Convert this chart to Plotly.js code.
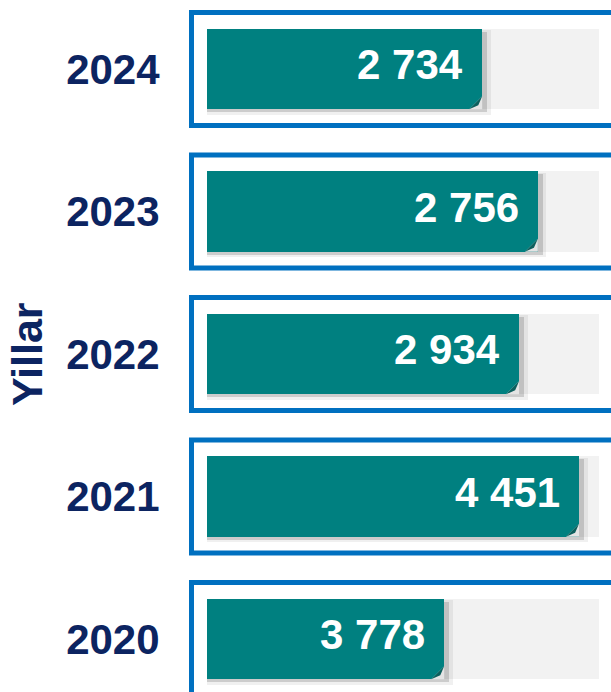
<!DOCTYPE html>
<html>
<head>
<meta charset="utf-8">
<script src="https://cdn.plot.ly/plotly-3.0.1.min.js"></script>
<style>html,body{margin:0;padding:0;background:#fff;}#chart{width:611px;height:692px;}</style>
</head>
<body>
<div id="chart"></div>
<script>
// Data (bottom to top)
const years = ['2020', '2021', '2022', '2023', '2024'];
const counts = [3778, 4451, 2934, 2756, 2734];
// Fill level of each bar as shown on the infographic (percent of the grey track)
const fillPct = [60.5, 94.9, 79.6, 84.4, 70.2];
const trackMax = [100, 100, 100, 100, 100];
const axisTitle = 'Yillar';

const NAVY = '#0c2461';
const BLUE = '#0070c0';
const TEAL = '#008080';
const TRACK = '#f2f2f2';
const FONT = 'Liberation Sans, Arial, sans-serif';

const fmt = v => String(v).replace(/\B(?=(\d{3})+(?!\d))/g, ' ');

const barW = 0.565;
const pxX = 3.92;   // px per x unit
const pxY = 142.5;  // px per category

const traces = [
  { type: 'bar', orientation: 'h', y: years, x: trackMax, width: barW,
    marker: { color: TRACK }, hoverinfo: 'skip' },
  { type: 'bar', orientation: 'h', y: years, x: fillPct.map(v => v + 2.2), width: barW + 0.03,
    offset: -(barW + 0.03) / 2 - 0.025,
    marker: { color: 'rgba(0,0,0,0.06)' }, hoverinfo: 'skip' },
  { type: 'bar', orientation: 'h', y: years, x: fillPct.map(v => v + 1.2), width: barW,
    offset: -barW / 2 - 0.02,
    marker: { color: 'rgba(0,0,0,0.15)' }, hoverinfo: 'skip' },
  { type: 'bar', orientation: 'h', y: years, x: fillPct, width: barW,
    marker: { color: TEAL }, hoverinfo: 'skip' }
];

const shapes = [];
years.forEach((yr, i) => {
  // outlined frame around each row
  shapes.push({ type: 'rect', xref: 'paper', yref: 'y', x0: 6.5 / 426, x1: 1.1,
    y0: i - 0.3965, y1: i + 0.3965, line: { color: BLUE, width: 5 }, fillcolor: 'rgba(0,0,0,0)', layer: 'below' });
  // folded corner
  const e = fillPct[i], b = i - barW / 2, dx = 13 / pxX, dy = 13 / pxY;
  shapes.push({ type: 'path', xref: 'x', yref: 'y',
    path: `M ${e} ${b + dy} L ${e - dx} ${b} L ${e} ${b} Z`,
    fillcolor: '#e4e4e4', line: { width: 0 } });
  shapes.push({ type: 'path', xref: 'x', yref: 'y',
    path: `M ${e} ${b + dy} L ${e - dx} ${b} L ${e - dx * 0.3} ${b + dy * 0.3} Z`,
    fillcolor: '#0b5f5d', line: { width: 0 } });
});

const annotations = years.map((yr, i) => ({
  x: fillPct[i], y: i, xref: 'x', yref: 'y', xanchor: 'right', yanchor: 'middle',
  xshift: -17, yshift: 4, showarrow: false, text: fmt(counts[i]),
  font: { family: FONT, size: 42, color: '#ffffff', weight: 'bold' }
}));
// axis title, centred on the middle row
annotations.push({
  x: (27 - 185) / 426, y: 2, xref: 'paper', yref: 'y', xanchor: 'center', yanchor: 'middle',
  textangle: -90, showarrow: false, text: axisTitle,
  font: { family: FONT, size: 43, color: NAVY, weight: 'bold' }
});

const layout = {
  width: 611, height: 692,
  margin: { l: 185, r: 0, t: 0, b: 0, pad: 0 },
  paper_bgcolor: '#ffffff', plot_bgcolor: '#ffffff',
  barmode: 'overlay', bargap: 0, showlegend: false,
  xaxis: { range: [-5.612, 103.06], visible: false, fixedrange: true },
  yaxis: {
    type: 'category', range: [-0.372, 4.484], fixedrange: true,
    showgrid: false, zeroline: false, showline: false,
    ticks: 'outside', ticklen: 16, tickcolor: 'rgba(0,0,0,0)',
    tickfont: { family: FONT, size: 42, color: NAVY, weight: 'bold' }
  },
  shapes: shapes,
  annotations: annotations
};

Plotly.newPlot('chart', traces, layout, { displayModeBar: false, staticPlot: true });
</script>
</body>
</html>
